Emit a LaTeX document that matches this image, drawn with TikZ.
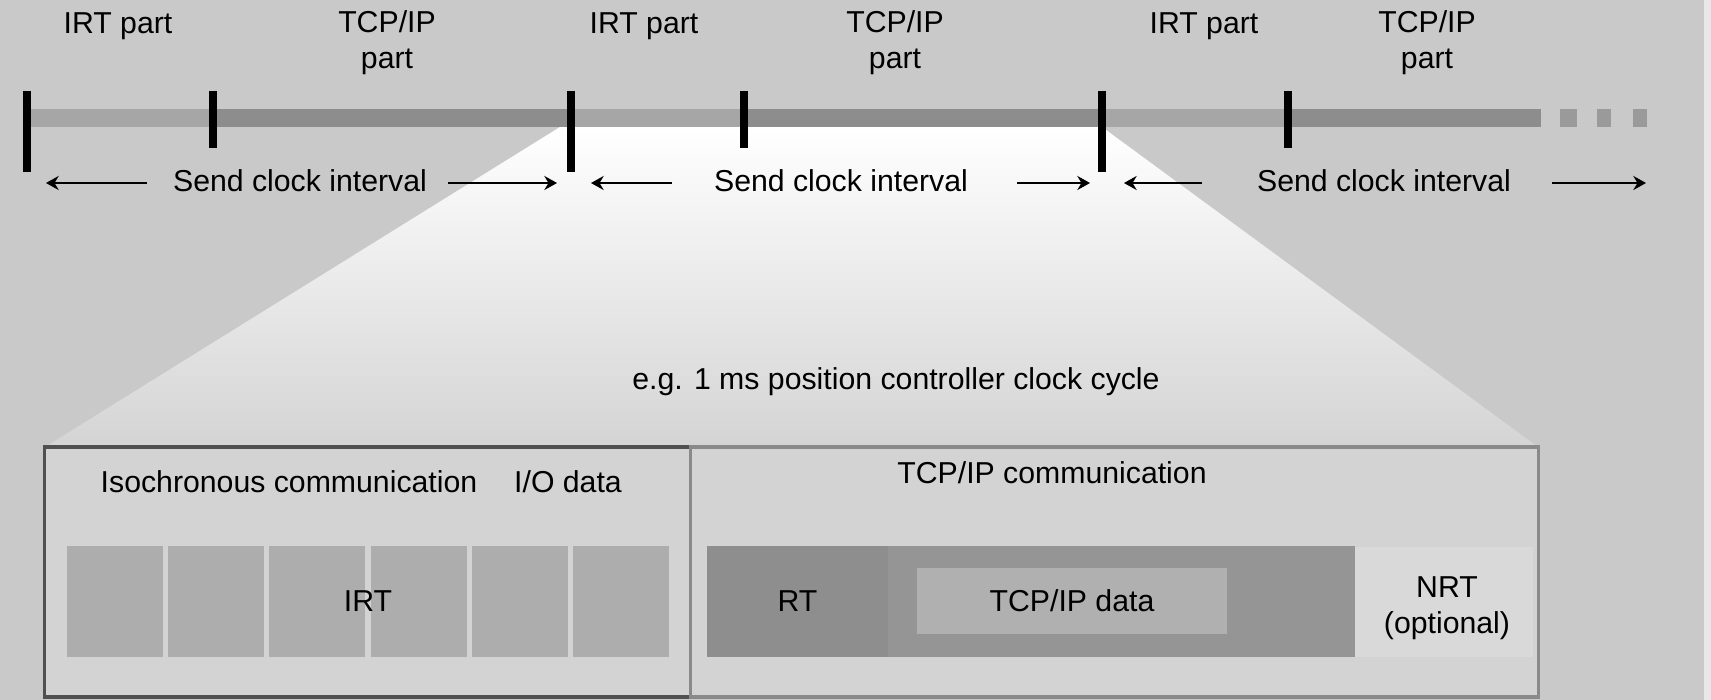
\documentclass[tikz,border=0pt]{standalone}
\usepackage{fontspec}
\setmainfont{Liberation Sans}
\usepackage{xcolor}
\usepackage{tikz}
\usetikzlibrary{arrows.meta, positioning}
\definecolor{bggray}{RGB}{201,201,201}
\definecolor{edgegray}{RGB}{232,232,232}
\definecolor{irtbar}{RGB}{166,166,166}
\definecolor{tcpbar}{RGB}{141,141,141}
\definecolor{dashgray}{RGB}{154,154,154}
\definecolor{funnelgray}{RGB}{212,212,212}
\definecolor{boxfill}{RGB}{211,211,211}
\definecolor{isoborder}{RGB}{80,80,80}
\definecolor{tcpborder}{RGB}{138,138,138}
\definecolor{irtcell}{RGB}{173,173,173}
\definecolor{rtgray}{RGB}{142,142,142}
\definecolor{tcpdark}{RGB}{149,149,149}
\definecolor{datagray}{RGB}{176,176,176}
\definecolor{nrtgray}{RGB}{217,217,217}
\newcommand{\diafont}{\fontsize{8.6}{9.4}\selectfont}
\tikzset{
  lbl/.style={font=\diafont, text=black, inner sep=0pt, align=center},
  bigtick/.style={line width=2.5pt, black},
  smalltick/.style={line width=2.5pt, black},
  dimarrow/.style={-{Stealth[length=3.6pt, width=4pt]}, line width=0.7pt, black},
  isobox/.style={rectangle, draw=isoborder, fill=boxfill, line width=0.9pt},
  tcpbox/.style={rectangle, draw=tcpborder, fill=boxfill, line width=0.9pt},
  rtblk/.style={rectangle, fill=rtgray, font=\diafont, inner sep=0pt},
  tcpblk/.style={rectangle, fill=tcpdark, inner sep=0pt},
  datablk/.style={rectangle, fill=datagray, font=\diafont, inner sep=0pt},
  nrtblk/.style={rectangle, fill=nrtgray, inner sep=0pt}
}
\begin{document}
\begin{tikzpicture}[x=0.01cm, y=-0.01cm]
  \useasboundingbox (0,0) rectangle (1711,700);
  % Background
  \fill[bggray] (0,0) rectangle (1711,700);
  \fill[edgegray] (1704,0) rectangle (1711,700);

  % Zoom funnel
  \shade[top color=white, bottom color=funnelgray] (560,127) -- (1102,127) -- (1538,447) -- (45,447) -- cycle;

  % Time line
  \foreach \a/\b in {27/213, 571/744, 1102/1288}
    \fill[irtbar] (\a,109) rectangle (\b,127);
  \foreach \a/\b in {213/571, 744/1102, 1288/1541}
    \fill[tcpbar] (\a,109) rectangle (\b,127);
  \foreach \a/\b in {1560/1577, 1597/1611, 1633/1647}
    \fill[dashgray] (\a,109) rectangle (\b,127);

  % Send clock marks
  \foreach \x in {27, 571, 1102}
    \draw[bigtick] (\x,91) -- (\x,172);
  \foreach \x in {213, 744, 1288}
    \draw[smalltick] (\x,91) -- (\x,148);

  % Part labels
  \node[lbl, anchor=base] (irt1) at (118,33) {IRT part};
  \node[lbl, anchor=base] (tcp1) at (387,68) {TCP/IP\\[0.6pt]part};
  \node[lbl, anchor=base] (irt2) at (644,33) {IRT part};
  \node[lbl, anchor=base] (tcp2) at (895,68) {TCP/IP\\[0.6pt]part};
  \node[lbl, anchor=base] (irt3) at (1204,33) {IRT part};
  \node[lbl, anchor=base] (tcp3) at (1427,68) {TCP/IP\\[0.6pt]part};

  % Send clock intervals
  \node[lbl, anchor=base] (sci1) at (300,191) {Send clock interval};
  \node[lbl, anchor=base] (sci2) at (841,191) {Send clock interval};
  \node[lbl, anchor=base] (sci3) at (1384,191) {Send clock interval};
  \coordinate (s1l) at (147,183);  \coordinate (e1l) at (46,183);
  \coordinate (s1r) at (448,183);  \coordinate (e1r) at (557,183);
  \coordinate (s2l) at (672,183);  \coordinate (e2l) at (591,183);
  \coordinate (s2r) at (1017,183); \coordinate (e2r) at (1090,183);
  \coordinate (s3l) at (1202,183); \coordinate (e3l) at (1124,183);
  \coordinate (s3r) at (1552,183); \coordinate (e3r) at (1646,183);
  \foreach \s/\e in {s1l/e1l, s1r/e1r, s2l/e2l, s2r/e2r, s3l/e3l, s3r/e3r}
    \draw[dimarrow] (\s) -- (\e);

  \node[lbl, anchor=base] (cycle) at (896,389) {e.g. 1 ms position controller clock cycle};

  % Isochronous part
  \node[isobox, minimum width=6.45cm, minimum height=2.5cm] (iso) at (367.5,572) {};
  \node[lbl, anchor=base] (isotitle) at (289,492) {Isochronous communication};
  \node[lbl, anchor=base] (iodata) at (568,492) {I/O data};
  \foreach \i in {0,...,5}
    \fill[irtcell] ({67+101.2*\i},546) rectangle +(96,111);
  \node[lbl, anchor=base] (irt) at (368,611) {IRT};

  % TCP/IP part
  \node[tcpbox, minimum width=8.47cm, minimum height=2.5cm] (tcpcom) at (1114.5,572) {};
  \node[lbl, anchor=base] (tcptitle) at (1052,483) {TCP/IP communication};
  \node[rtblk, minimum width=1.81cm, minimum height=1.11cm] (rt) at (797.5,601.5) {RT};
  \node[tcpblk, minimum width=4.67cm, minimum height=1.11cm] (tcpzone) at (1121.5,601.5) {};
  \node[datablk, minimum width=3.10cm, minimum height=0.66cm] (tcpdata) at (1072,601) {TCP/IP data};
  \node[nrtblk, minimum width=1.78cm, minimum height=1.10cm] (nrt) at (1444,602) {};
  \node[lbl, anchor=base] (nrttext) at (1447,633) {NRT\\[0.8pt](optional)};
\end{tikzpicture}
\end{document}
